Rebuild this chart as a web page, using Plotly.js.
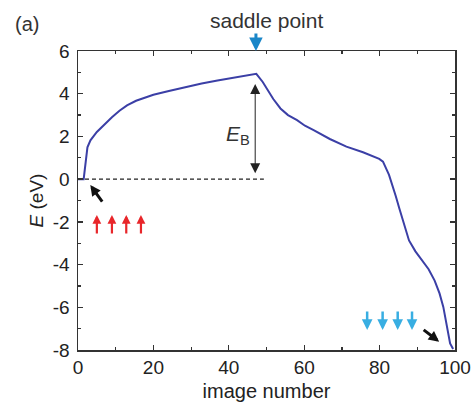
<!DOCTYPE html>
<html>
<head>
<meta charset="utf-8">
<script src="https://cdn.plot.ly/plotly-3.0.1.min.js"></script>
<style>html,body{margin:0;padding:0;background:#fff;}#chart{width:471px;height:410px;}</style>
</head>
<body>
<div id="chart"></div>
<script>
// Image number along the NEB path
var imageNumber = [0, 1.5, 2.5, 3.3, 5, 6.6, 9, 11, 13, 15.4, 20, 24.1, 28, 32.8, 37, 41.5, 45, 47.3, 49, 50.3, 51.8, 53.7, 55.7, 58.1, 60.2, 62.5, 66.8, 71.2, 75.6, 79.9, 80.9, 82.5, 83.4, 84.3, 85.2, 86.5, 87.8, 89.5, 91.3, 93, 94.6, 95.9, 96.9, 97.8, 98.7, 99.5];
// Energy (eV)
var energy = [0, 0, 1.49, 1.82, 2.21, 2.5, 2.9, 3.2, 3.45, 3.67, 3.95, 4.13, 4.3, 4.48, 4.62, 4.75, 4.85, 4.93, 4.55, 4.16, 3.75, 3.31, 3.0, 2.76, 2.5, 2.29, 1.88, 1.52, 1.26, 0.95, 0.82, 0.2, -0.25, -0.8, -1.35, -2.15, -2.87, -3.38, -3.8, -4.22, -4.75, -5.35, -5.98, -6.91, -7.69, -7.95];
// Reference level (initial state energy)
var refX = [0, 49.3];
var refE = [0, 0];
// Tick labels
var xTickVals = [0, 20, 40, 60, 80, 100];
var xTickText = ['0', '20', '40', '60', '80', '100'];
var yTickVals = [-8, -6, -4, -2, 0, 2, 4, 6];
var yTickText = ['-8', '-6', '-4', '-2', '0', '2', '4', '6'];
// Annotation arrow positions
var redArrowX = [5.0, 9.0, 12.8, 16.7];
var redArrowE = -1.68;
var cyanArrowX = [76.7, 80.8, 84.8, 88.6];
var cyanArrowE = -7.06;
var saddleX = 47.2;
var barrierTop = 4.45, barrierBottom = 0.2, barrierX = 47;

var FONT = 'Liberation Sans, Arial, Helvetica, sans-serif';
var AX = '#333333';

var traces = [
  {x: refX, y: refE, mode: 'lines', line: {color: '#222', width: 1.3, dash: '4px,3px'}, hoverinfo: 'skip'},
  {x: imageNumber, y: energy, mode: 'lines', line: {color: '#3b3fa6', width: 2}}
];

var ann = [];
ann.push({xref: 'paper', yref: 'paper', x: -0.135, y: 1.09, xanchor: 'center', yanchor: 'middle', text: '(a)', showarrow: false, font: {family: FONT, size: 20, color: '#333'}});
ann.push({xref: 'paper', yref: 'paper', x: 0.5, y: 1.103, xanchor: 'center', yanchor: 'middle', text: 'saddle point', showarrow: false, font: {family: FONT, size: 21, color: '#333'}});
ann.push({x: 42.4, y: 2.06, xanchor: 'center', yanchor: 'middle', text: '<i>E</i><sub>B</sub>', showarrow: false, font: {family: FONT, size: 21, color: '#333'}});
// saddle arrow
ann.push({x: saddleX, y: 6, text: '', showarrow: true, ax: 0, ay: -19, arrowhead: 2, arrowwidth: 3, arrowsize: 0.9, arrowcolor: '#1a86c8', standoff: 0});
// barrier double arrow
ann.push({x: barrierX, y: barrierTop, ax: barrierX, ay: barrierBottom, axref: 'x', ayref: 'y', text: '', showarrow: true, arrowside: 'end+start', arrowhead: 2, startarrowhead: 2, arrowwidth: 1, arrowsize: 2, startarrowsize: 2, arrowcolor: '#222', standoff: 0, startstandoff: 0});
redArrowX.forEach(function (xv) {
  ann.push({x: xv, y: redArrowE, text: '', showarrow: true, ax: 0, ay: 20, arrowhead: 2, arrowwidth: 2.2, arrowsize: 0.8, arrowcolor: '#e8262a', standoff: 0});
});
cyanArrowX.forEach(function (xv) {
  ann.push({x: xv, y: cyanArrowE, text: '', showarrow: true, ax: 0, ay: -20, arrowhead: 2, arrowwidth: 2.5, arrowsize: 0.85, arrowcolor: '#38aee2', standoff: 0});
});
ann.push({x: 3.26, y: -0.28, text: '', showarrow: true, ax: 13, ay: 18, arrowhead: 2, arrowwidth: 3, arrowsize: 0.7, arrowcolor: '#111', standoff: 0});
ann.push({x: 95.8, y: -7.61, text: '', showarrow: true, ax: -17, ay: -13, arrowhead: 2, arrowwidth: 3, arrowsize: 0.7, arrowcolor: '#111', standoff: 0});

var axisCommon = {
  showgrid: false, zeroline: false, showline: true, linecolor: AX, linewidth: 1.5,
  mirror: 'ticks', ticks: 'inside', ticklen: 5, tickwidth: 1.3, tickcolor: AX,
  ticklabeloverflow: 'allow',
  tickfont: {family: FONT, size: 19, color: '#222'}
};

var layout = {
  width: 471, height: 410,
  margin: {l: 78, r: 16, t: 51, b: 60},
  paper_bgcolor: '#fff', plot_bgcolor: '#fff',
  showlegend: false,
  xaxis: Object.assign({}, axisCommon, {
    range: [0, 100], tickmode: 'array', tickvals: xTickVals, ticktext: xTickText,
    minor: {tickmode: 'linear', tick0: 0, dtick: 10, ticks: 'inside', ticklen: 3, tickcolor: AX, tickwidth: 1.2},
    title: {text: 'image number', font: {family: FONT, size: 20, color: '#222'}, standoff: 6}
  }),
  yaxis: Object.assign({}, axisCommon, {
    range: [-8, 6], tickmode: 'array', tickvals: yTickVals, ticktext: yTickText,
    ticklabelstandoff: 3,
    minor: {tickmode: 'linear', tick0: -8, dtick: 1, ticks: 'inside', ticklen: 3, tickcolor: AX, tickwidth: 1.2},
    title: {text: '<i>E</i> (eV)', font: {family: FONT, size: 19, color: '#222'}, standoff: 4}
  }),
  annotations: ann
};

Plotly.newPlot('chart', traces, layout, {displayModeBar: false, staticPlot: true});
</script>
</body>
</html>
